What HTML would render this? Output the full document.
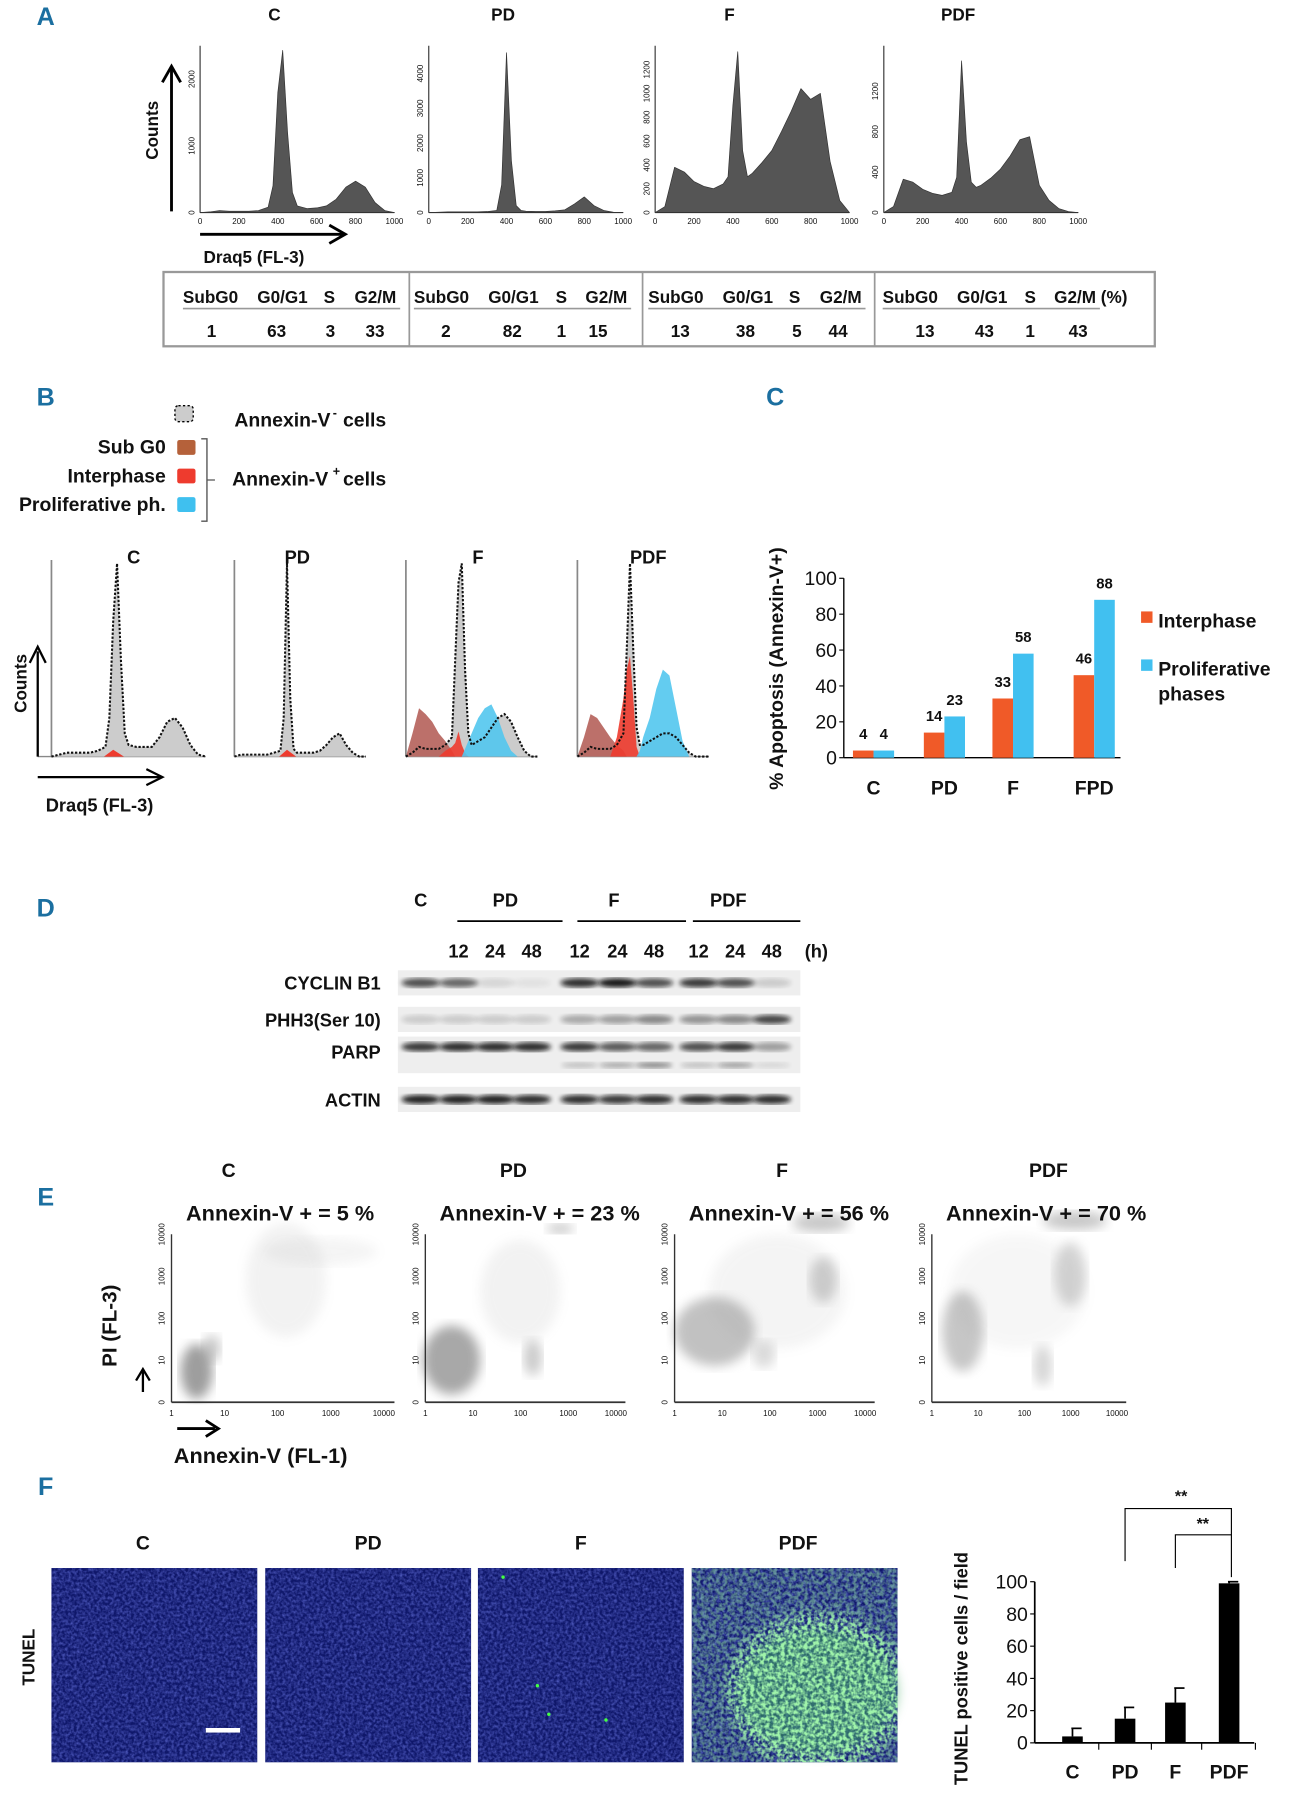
<!DOCTYPE html>
<html><head><meta charset="utf-8"><style>
html,body{margin:0;padding:0;background:#fff;}
svg{display:block;}
text{font-family:"Liberation Sans Narrow","Liberation Sans",sans-serif;font-weight:bold;fill:#111;}
.pl{fill:#1b6fa0;font-size:22px;}
.tk{font-size:7px;font-weight:normal;}
</style></head><body>
<svg id="fig" width="1292" height="1800" viewBox="0 0 1130 1575" preserveAspectRatio="none" xmlns="http://www.w3.org/2000/svg">
<defs>
<filter id="blur4"><feGaussianBlur stdDeviation="5"/></filter>
<filter id="blur2"><feGaussianBlur stdDeviation="2"/></filter>
<filter id="noiseB" x="0" y="0" width="1" height="1"><feTurbulence type="fractalNoise" baseFrequency="0.4" numOctaves="2" seed="3"/><feColorMatrix values="0 0 0 0 0.1  0 0 0 0 0.13  0 0 0 0 0.6  0 0 0 1.4 -0.45"/><feComposite in2="SourceGraphic" operator="in"/></filter>
<filter id="noiseG" x="0" y="0" width="1" height="1"><feTurbulence type="fractalNoise" baseFrequency="0.3" numOctaves="2" seed="9"/><feColorMatrix values="0 0 0 0 0.35  0 0 0 0 0.9  0 0 0 0 0.4  0 0 0 3 -1.0"/><feComposite in2="SourceGraphic" operator="in"/></filter>
<mask id="pdfMask"><rect x="605" y="1372" width="180" height="170" fill="#777"/><ellipse cx="715" cy="1480" rx="80" ry="70" fill="#fff" filter="url(#blur4)"/></mask>
</defs>
<g id="root"></g>
</svg>
<script>
// ---------- DATA ----------
const histX=[0,50,100,150,200,250,300,350,375,400,425,450,475,500,550,600,650,700,750,800,850,900,950,1000];
const histC=[0,10,30,20,20,20,30,80,400,1800,2430,1200,300,100,60,70,100,200,380,470,380,150,30,0];
const histPD=[0,10,20,20,20,20,30,60,800,4600,1500,200,60,40,30,30,50,80,250,450,200,60,10,0];
const histF=[0,50,380,340,260,220,200,240,300,900,1350,520,300,330,420,520,680,850,1040,950,1000,430,100,0];
const histPDF=[0,60,330,300,230,190,170,200,350,1500,700,300,250,270,340,430,560,720,750,270,120,40,10,0];
const histMax=[2500,4800,1400,1650];
const histTicks=[[0,1000,2000],[0,1000,2000,3000,4000],[0,200,400,600,800,1000,1200],[0,400,800,1200]];
const histTitles=["C","PD","F","PDF"];
const cycleCols=["SubG0","G0/G1","S","G2/M"];
const cycleVals=[[1,63,3,33],[2,82,1,15],[13,38,5,44],[13,43,1,43]];
const bGreyC=[0,.01,.02,.02,.02,.02,.03,.05,.2,.7,1,.5,.12,.06,.05,.05,.05,.1,.18,.2,.15,.06,.01,0];
const bGreyPD=[0,.01,.01,.01,.01,.01,.02,.03,.2,1,.3,.04,.02,.02,.02,.02,.03,.06,.1,.12,.06,.02,0,0];
const bGreyF=[0,.02,.05,.04,.04,.04,.06,.1,.5,.9,1,.45,.12,.06,.08,.1,.15,.2,.22,.18,.1,.03,0,0];
const bBrownF=[0,.12,.25,.22,.18,.12,.08,.03,0,0,0,0,0,0,0,0,0,0,0,0,0,0,0,0];
const bRedF=[0,0,0,0,0,0,.03,.05,.07,.13,.06,.02,0,0,0,0,0,0,0,0,0,0,0,0];
const bBlueF=[0,0,0,0,0,0,0,0,0,0,0,.04,.08,.12,.2,.25,.27,.2,.1,.03,0,0,0,0];
const bGreyPDF=[0,.02,.05,.04,.04,.04,.06,.12,.55,1,.55,.15,.06,.06,.08,.1,.12,.12,.1,.06,.02,0,0,0];
const bBrownPDF=[0,.1,.22,.2,.15,.1,.06,.03,0,0,0,0,0,0,0,0,0,0,0,0,0,0,0,0];
const bRedPDF=[0,0,0,0,0,0,.1,.3,.45,.52,.3,.05,0,0,0,0,0,0,0,0,0,0,0,0];
const bBluePDF=[0,0,0,0,0,0,0,0,0,0,0,0,.03,.1,.2,.35,.45,.42,.25,.08,0,0,0,0];
const apopCats=["C","PD","F","FPD"];
const apopInter=[4,14,33,46];
const apopProlif=[4,23,58,88];
const apopTicks=[0,20,40,60,80,100];
const blotRows=["CYCLIN B1","PHH3(Ser 10)","PARP","ACTIN"];
const blotLanes=["C","12","24","48","12","24","48","12","24","48"];
const bandCyclin=[0.7,0.6,0.1,0.05,0.85,0.95,0.7,0.8,0.7,0.15];
const bandPHH3=[0.15,0.15,0.15,0.15,0.3,0.35,0.45,0.4,0.45,0.75];
const bandPARP=[0.8,0.85,0.85,0.85,0.8,0.65,0.6,0.7,0.8,0.35];
const bandPARPcl=[0,0,0,0,0.2,0.3,0.45,0.2,0.35,0.1];
const bandActin=[0.9,0.9,0.9,0.85,0.85,0.8,0.85,0.85,0.85,0.85];
const annexTitles=["C","PD","F","PDF"];
const annexPct=[5,23,56,70];
const tunelCats=["C","PD","F","PDF"];
const tunelVals=[4,15,25,99];
const tunelErr=[5,7,9,1];
const tunelTicks=[0,20,40,60,80,100];

// ---------- HELPERS ----------
const NS="http://www.w3.org/2000/svg";
const root=document.getElementById('root');
function el(tag,attrs,parent,txt){const e=document.createElementNS(NS,tag);for(const k in attrs)e.setAttribute(k,attrs[k]);if(txt!==undefined)e.textContent=txt;(parent||root).appendChild(e);return e;}
function T(x,y,s,size,anchor,parent,extra){return el('text',Object.assign({x:x,y:y,'font-size':size,'text-anchor':anchor||'middle'},extra||{}),parent,s);}

[["A",40,22],["B",40,355],["C",678,355],["D",40,802],["E",40,1055],["F",40,1308]].forEach(p=>{
 const t=T(p[1],p[2],p[0],22,'middle',root,{'class':'pl'});
 
 
});

// ---------- PANEL A ----------
const aX0=[175,375,573,773], aW=170, aBase=186, aTop=40;
const aData=[histC,histPD,histF,histPDF];
aData.forEach((d,i)=>{
 const g=el('g',{},root);
 
 
 const xs=v=>aX0[i]+v/1000*aW, ys=v=>aBase-v/histMax[i]*(aBase-aTop);
 let p='M'+xs(0)+','+aBase;
 d.forEach((v,j)=>p+=' L'+xs(histX[j])+','+ys(v));
 p+=' L'+xs(1000)+','+aBase+'Z';
 el('path',{d:p,fill:'#555',stroke:'#333','stroke-width':0.6,'stroke-linejoin':'round'},g);
 el('line',{x1:aX0[i],y1:aBase,x2:aX0[i]+aW,y2:aBase,stroke:'#333','stroke-width':1},g);
 el('line',{x1:aX0[i],y1:aBase,x2:aX0[i],y2:aTop,stroke:'#333','stroke-width':1},g);
 [0,200,400,600,800,1000].forEach(v=>T(xs(v),aBase+10,v,7,'middle',g,{'class':'tk'}));
 histTicks[i].forEach(v=>T(aX0[i]-5,ys(v),v,6,'middle',g,{'class':'tk',transform:'rotate(-90 '+(aX0[i]-5)+' '+ys(v)+')'}));
 const tt=T(aX0[i]+65,18,histTitles[i],15,'middle',root);
 
 
});
el('line',{x1:150,y1:185,x2:150,y2:60,stroke:'#000','stroke-width':2.5});
el('path',{d:'M142,72 L150,58 L158,72',fill:'none',stroke:'#000','stroke-width':2.5});
T(138,114,"Counts",15,'middle',root,{transform:'rotate(-90 138 114)',style:'font-family:"Liberation Sans",sans-serif'});
el('line',{x1:175,y1:205,x2:300,y2:205,stroke:'#000','stroke-width':2.5});
el('path',{d:'M288,197 L302,205 L288,213',fill:'none',stroke:'#000','stroke-width':2.5});
T(178,230,"Draq5 (FL-3)",15,'start');
const tb=el('g',{},root);


el('rect',{x:143,y:238,width:867,height:65,fill:'none',stroke:'#999','stroke-width':2},tb);
[358,562,765].forEach(x=>el('line',{x1:x,y1:238,x2:x,y2:303,stroke:'#999','stroke-width':1.5},tb));
const tCol=[[160,225,283,310],[362,427,486,512],[567,632,690,717],[772,837,896,922]];
const tVal=[[185,242,289,328],[390,448,491,523],[595,652,697,733],[809,861,901,943]];
cycleVals.forEach((vals,i)=>{
 cycleCols.forEach((c,j)=>T(tCol[i][j],265,c+(i==3&&j==3?' (%)':''),15,'start',tb));
 el('line',{x1:tCol[i][0],y1:270,x2:tCol[i][3]+40,y2:270,stroke:'#999','stroke-width':1.5},tb);
 vals.forEach((v,j)=>T(tVal[i][j],295,v,15,'middle',tb));
});

// ---------- PANEL B ----------
el('rect',{x:153,y:355,width:16,height:14,fill:'#ccc',stroke:'#000','stroke-dasharray':'2,2','stroke-width':1.2,rx:3});
T(205,373,"Annexin-V",17,'start');T(291,365,"-",11,'start');T(300,373,"cells",17,'start');
[["Sub G0",397,'#b5613a'],["Interphase",422,'#ee3b2e'],["Proliferative ph.",447,'#3fc0ef']].forEach(r=>{
 T(145,r[1],r[0],17,'end');el('rect',{x:155,y:r[1]-12,width:16,height:13,fill:r[2],rx:2});
});
el('path',{d:'M176,384 L181,384 L181,456 L176,456 M181,420 L188,420',fill:'none',stroke:'#555','stroke-width':1.2});
T(203,425,"Annexin-V",17,'start');T(291,416,"+",11,'start');T(300,425,"cells",17,'start');
const bX0=[33,205,355,505], bW=[147,115,115,115], bBase=662, bTop=490;
const bTitle=["C","PD","F","PDF"], bTx=[117,260,418,567];
const bGrey=[bGreyC,bGreyPD,bGreyF,bGreyPDF];
const bLayers=[[],[],[[bBrownF,'#b5615a'],[bRedF,'#ee3b2e'],[bBlueF,'#52c6ee']],[[bBrownPDF,'#b5615a'],[bRedPDF,'#ee3b2e'],[bBluePDF,'#52c6ee']]];
function areaPath(d,xs,ys){let p='M'+xs(0)+','+bBase;d.forEach((v,j)=>p+=' L'+xs(histX[j])+','+ys(v));return p+' L'+xs(1000)+','+bBase;}
bGrey.forEach((d,i)=>{
 const g=el('g',{},root);
 
 
 const off=i?0:12;
 const xs=v=>bX0[i]+off+v/1000*(bW[i]-off), ys=v=>bBase-v*(bBase-bTop-3);
 el('line',{x1:bX0[i],y1:bBase,x2:bX0[i]+bW[i],y2:bBase,stroke:'#888','stroke-width':1.2},g);
 el('line',{x1:bX0[i]+off,y1:bBase,x2:bX0[i]+off,y2:bTop,stroke:'#888','stroke-width':1.5},g);
 const p=areaPath(d,xs,ys);
 el('path',{d:p+'Z',fill:'#ccc'},g);
 bLayers[i].forEach(L=>el('path',{d:areaPath(L[0],xs,ys)+'Z',fill:L[1],opacity:0.9},g));
 if(i<2) el('path',{d:'M'+xs(340)+','+bBase+' L'+xs(400)+','+(bBase-6)+' L'+xs(470)+','+bBase+'Z',fill:'#ee3b2e'},g);
 el('path',{d:p,fill:'none',stroke:'#111','stroke-width':1.8,'stroke-dasharray':'2,1.5'},g);
 T(bTx[i],493,bTitle[i],16,'middle',root);
});
el('line',{x1:33,y1:662,x2:33,y2:570,stroke:'#000','stroke-width':2});
el('path',{d:'M26,580 L33,566 L40,580',fill:'none',stroke:'#000','stroke-width':2});
T(23,598,"Counts",15,'middle',root,{transform:'rotate(-90 23 598)',style:'font-family:"Liberation Sans",sans-serif'});
el('line',{x1:33,y1:680,x2:140,y2:680,stroke:'#000','stroke-width':2});
el('path',{d:'M128,673 L142,680 L128,687',fill:'none',stroke:'#000','stroke-width':2});
T(40,710,"Draq5 (FL-3)",16,'start');

// ---------- PANEL C ----------
const cg=el('g',{},root);


const cY0=663,cY100=506,cAx=738,cCx=[764,826,886,957],bw=18;
const cy=v=>cY0-v/100*(cY0-cY100);
el('line',{x1:cAx,y1:cY0,x2:cAx,y2:cY100,stroke:'#000','stroke-width':1.2},cg);
el('line',{x1:cAx,y1:cY0,x2:980,y2:cY0,stroke:'#000','stroke-width':1.2},cg);
apopTicks.forEach(v=>{el('line',{x1:cAx-4,y1:cy(v),x2:cAx,y2:cy(v),stroke:'#000'},cg);T(cAx-6,cy(v)+6,v,17,'end',cg,{style:'font-family:"Liberation Sans",sans-serif;font-weight:normal'});});
apopCats.forEach((c,i)=>{
 const r=el('rect',{x:cCx[i]-bw,y:cy(apopInter[i]),width:bw,height:cY0-cy(apopInter[i]),fill:'#f05a28'},cg);
 
 
 const b=el('rect',{x:cCx[i],y:cy(apopProlif[i]),width:bw,height:cY0-cy(apopProlif[i]),fill:'#41c0f0'},cg);
 
 
 T(cCx[i]-bw/2,cy(apopInter[i])-10,apopInter[i],13,'middle',cg);
 T(cCx[i]+bw/2,cy(apopProlif[i])-10,apopProlif[i],13,'middle',cg);
 T(cCx[i],695,c,17,'middle',cg);
});
T(685,585,"% Apoptosis (Annexin-V+)",17,'middle',cg,{transform:'rotate(-90 685 585)',style:'font-family:"Liberation Sans",sans-serif;font-weight:bold'});
const lg=el('g',{},cg);
el('rect',{x:998,y:535,width:10,height:10,fill:'#f05a28'},lg);T(1013,549,"Interphase",17,'start',lg);
el('rect',{x:998,y:577,width:10,height:10,fill:'#41c0f0'},lg);T(1013,591,"Proliferative",17,'start',lg);T(1013,613,"phases",17,'start',lg);

// ---------- PANEL D ----------
const dg=el('g',{},root);


const lx=[368,401,433,465,507,540,572,611,643,675];
T(368,793,"C",16,'middle',dg);T(442,793,"PD",16,'middle',dg);T(537,793,"F",16,'middle',dg);T(637,793,"PDF",16,'middle',dg);
[[400,492],[505,600],[606,700]].forEach(s=>el('line',{x1:s[0],y1:806,x2:s[1],y2:806,stroke:'#000','stroke-width':1.5},dg));
blotLanes.forEach((l,i)=>{if(i)T(lx[i],838,l,16,'middle',dg);});
T(714,838,"(h)",16,'middle',dg);
const rowY=[860,892,923,962], rowH=[22,22,32,22];
const bands=[bandCyclin,bandPHH3,bandPARP,bandActin];
blotRows.forEach((r,k)=>{
 T(333,rowY[k]+6-(k==2?3:0),r,16,'end',dg);
 el('rect',{x:348,y:rowY[k]-rowH[k]/2,width:352,height:rowH[k],fill:'#eee'},dg);
 bands[k].forEach((v,i)=>{const e=el('ellipse',{cx:lx[i],cy:rowY[k]+(k==2?-7:0),rx:17,ry:4,fill:'#111',opacity:v,filter:'url(#blur2)'},dg);
  
  });
 if(k==2)bandPARPcl.forEach((v,i)=>el('ellipse',{cx:lx[i],cy:rowY[k]+9,rx:16,ry:2.5,fill:'#111',opacity:v,filter:'url(#blur2)'},dg));
});

// ---------- PANEL E ----------
const eX0=[150,372,590,815], eW=[195,175,175,170], eBase=1227, eTop=1080;
const eTx=[200,449,684,917], eBlobs=[
 [[172,1200,14,24,0.95],[185,1180,8,12,0.5],[250,1120,35,50,0.12],[280,1095,50,12,0.1]],
 [[395,1190,25,30,0.85],[466,1188,8,16,0.5],[490,1075,12,4,0.6],[455,1130,35,45,0.12]],
 [[625,1165,35,30,0.6],[718,1070,25,8,0.55],[720,1120,12,20,0.45],[668,1185,10,12,0.35],[680,1130,60,50,0.1]],
 [[842,1165,18,35,0.55],[912,1195,8,18,0.4],[940,1068,28,8,0.55],[936,1115,14,28,0.4],[890,1130,60,50,0.08]]];
annexTitles.forEach((t,i)=>{
 const g=el('g',{},root);
 
 
 T(eTx[i],1030,t,17,'middle',g);
 eBlobs[i].forEach(b=>el('ellipse',{cx:b[0],cy:b[1],rx:b[2],ry:b[3],fill:'#999',opacity:b[4],filter:'url(#blur4)'},g));
 T(eX0[i]+(i==0?95:100),1068,'Annexin-V + = '+annexPct[i]+' %',19,'middle',g);
 el('line',{x1:eX0[i],y1:eBase,x2:eX0[i]+eW[i],y2:eBase,stroke:'#333','stroke-width':1.5},g);
 el('line',{x1:eX0[i],y1:eBase,x2:eX0[i],y2:eTop,stroke:'#333','stroke-width':1.2},g);
 [1,10,100,1000,10000].forEach((v,j)=>T(eX0[i]+j*eW[i]/4.2,eBase+12,v,6,'middle',g,{'class':'tk'}));
 [0,10,100,1000,10000].forEach((v,j)=>{const y=eBase-j*(eBase-eTop)/4;T(eX0[i]-6,y,v,6,'middle',g,{'class':'tk',transform:'rotate(-90 '+(eX0[i]-6)+' '+y+')'});});
});
T(102,1160,"PI (FL-3)",18,'middle',root,{transform:'rotate(-90 102 1160)',style:'font-family:"Liberation Sans",sans-serif;font-weight:bold'});
el('line',{x1:125,y1:1218,x2:125,y2:1200,stroke:'#000','stroke-width':2});
el('path',{d:'M119,1208 L125,1198 L131,1208',fill:'none',stroke:'#000','stroke-width':2});
el('line',{x1:155,y1:1250,x2:188,y2:1250,stroke:'#000','stroke-width':2.5});
el('path',{d:'M180,1243 L191,1250 L180,1257',fill:'none',stroke:'#000','stroke-width':2.5});
T(152,1280,"Annexin-V (FL-1)",19,'start');

// ---------- PANEL F ----------
const fX=[45,232,418,605], fT=["C","PD","F","PDF"];
fX.forEach((x,i)=>{
 const g=el('g',{},root);
 
 
 T(x+(i==0?80:i==3?93:90),1356,fT[i],17,'middle',root);
 el('rect',{x:x,y:1372,width:180,height:170,fill:'#0f176a'},g);
 el('rect',{x:x,y:1372,width:180,height:170,fill:'#fff',filter:'url(#noiseB)'},g);
 if(i==3){
  el('ellipse',{cx:715,cy:1480,rx:70,ry:55,fill:'#3fa862',opacity:0.55,filter:'url(#blur4)'},g);
  el('rect',{x:x,y:1372,width:180,height:170,fill:'#fff',filter:'url(#noiseG)',mask:'url(#pdfMask)'},g);}
 if(i==2){[[470,1475],[480,1500],[530,1505],[440,1380]].forEach(p=>el('circle',{cx:p[0],cy:p[1],r:1.5,fill:'#4f4'},g));}
});
el('rect',{x:180,y:1512,width:30,height:4,fill:'#fff'});
T(30,1450,"TUNEL",15,'middle',root,{transform:'rotate(-90 30 1450)',style:'font-family:"Liberation Sans",sans-serif;font-weight:bold'});
const fg=el('g',{},root);


const fY0=1525,fY100=1384,fAx=905,fCx=[938,984,1028,1075];
const fy=v=>fY0-v/100*(fY0-fY100);
el('line',{x1:fAx,y1:fY0,x2:fAx,y2:fY100,stroke:'#000','stroke-width':1.5},fg);
el('line',{x1:fAx,y1:fY0,x2:1097,y2:fY0,stroke:'#000','stroke-width':1.5},fg);
tunelTicks.forEach(v=>{el('line',{x1:fAx-4,y1:fy(v),x2:fAx,y2:fy(v),stroke:'#000'},fg);T(fAx-6,fy(v)+6,v,17,'end',fg,{style:'font-family:"Liberation Sans",sans-serif;font-weight:normal'});});
tunelCats.forEach((c,i)=>{
 el('line',{x1:fCx[i]+23,y1:fY0,x2:fCx[i]+23,y2:fY0+6,stroke:'#000'},fg);
 el('line',{x1:fCx[i],y1:fy(tunelVals[i]),x2:fCx[i],y2:fy(tunelVals[i]+tunelErr[i]),stroke:'#000','stroke-width':1.5},fg);
 el('line',{x1:fCx[i]-1,y1:fy(tunelVals[i]+tunelErr[i]),x2:fCx[i]+8,y2:fy(tunelVals[i]+tunelErr[i]),stroke:'#000','stroke-width':1.5},fg);
 const r=el('rect',{x:fCx[i]-9,y:fy(tunelVals[i]),width:18,height:fY0-fy(tunelVals[i]),fill:'#000'},fg);
 
 
 T(fCx[i],1556,c,17,'middle',fg);
});
el('path',{d:'M984,1366 L984,1320 L1077,1320 L1077,1380',fill:'none',stroke:'#000','stroke-width':1},fg);
el('path',{d:'M1028,1372 L1028,1343 L1077,1343',fill:'none',stroke:'#000','stroke-width':1},fg);
T(1033,1314,"**",14,'middle',fg);T(1052,1338,"**",14,'middle',fg);
T(846,1460,"TUNEL positive cells / field",16,'middle',fg,{transform:'rotate(-90 846 1460)',style:'font-family:"Liberation Sans",sans-serif;font-weight:bold'});
</script>
</body></html>
